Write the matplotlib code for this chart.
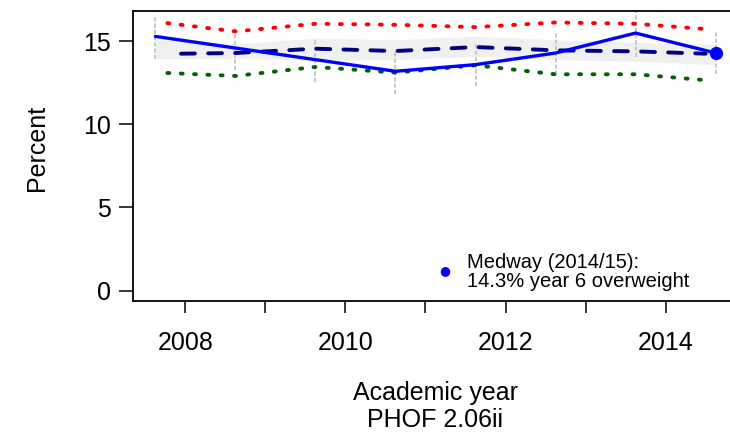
import matplotlib
matplotlib.use("Agg")
import matplotlib.pyplot as plt

plt.rcParams['font.family'] = ['Liberation Sans', 'DejaVu Sans']
plt.rcParams['lines.scale_dashes'] = False

# Data (academic years 2007/08 .. 2014/15, plotted at mid-year positions)
years = [2007.625, 2008.625, 2009.625, 2010.625, 2011.625, 2012.625, 2013.625, 2014.625]
medway = [15.3, 14.6, 13.9, 13.2, 13.6, 14.3, 15.5, 14.3]
medway_lo = [13.96, 13.3, 12.56, 11.86, 12.3, 12.96, 14.06, 13.06]
medway_hi = [16.56, 15.82, 15.16, 14.36, 14.9, 15.56, 16.76, 15.56]

band_lo = [13.95, 13.95, 13.9, 13.9, 14.1, 13.9, 13.8, 13.6]
band_hi = [15.1, 14.85, 15.2, 15.1, 15.3, 15.1, 14.95, 14.8]

red_x = [2007.775, 2008.625, 2009.625, 2010.625, 2011.625, 2012.625, 2013.625, 2014.51]
red_vals = [16.1, 15.6, 16.06, 16.0, 15.86, 16.14, 16.06, 15.74]
green_x = [2007.775, 2008.625, 2009.625, 2010.625, 2011.625, 2012.625, 2013.625, 2014.51]
green_vals = [13.1, 12.92, 13.46, 13.12, 13.56, 13.02, 13.02, 12.66]
navy_x = [2007.945, 2008.625, 2009.625, 2010.625, 2011.625, 2012.625, 2013.625, 2014.5]
navy_vals = [14.26, 14.3, 14.56, 14.42, 14.66, 14.46, 14.4, 14.26]

xticks = [2008, 2009, 2010, 2011, 2012, 2013, 2014]
xticklabels = ["2008", "", "2010", "", "2012", "", "2014"]
yticks = [0, 5, 10, 15]

latest_label = "Medway (2014/15):\n14.3% year 6 overweight"

fig = plt.figure(figsize=(7.3, 4.32), dpi=100)
ax = fig.add_axes([133/730, 1-301/432, (738-133)/730, (301-10.5)/432])

ax.fill_between(years, band_lo, band_hi, color='#f0f0f0', linewidth=0, zorder=1)

for x, lo, hi in zip(years, medway_lo, medway_hi):
    ax.plot([x, x], [lo, hi], color='#c4c4c4', lw=1.3, dashes=(3, 1.5), zorder=2)

ax.plot(red_x, red_vals, color='#ff0000', lw=2.8, dashes=(1.4, 8.2),
        dash_capstyle='round', zorder=3)
ax.plot(green_x, green_vals, color='#006400', lw=2.8, dashes=(1.4, 8.2),
        dash_capstyle='round', zorder=3)
ax.plot(navy_x, navy_vals, color='#000080', lw=2.8, dashes=(10, 9.5),
        dash_capstyle='round', zorder=3)
ax.plot(years, medway, color='#0000ff', lw=2.4, zorder=4, solid_capstyle='round')
ax.plot([years[-1]], [medway[-1]], 'o', color='#0000ff', ms=8.5, zorder=5)

ax.set_xlim(2007.345, 2014.905)
ax.set_ylim(-0.63, 16.86)

for side in ['top', 'right', 'left', 'bottom']:
    ax.spines[side].set_linewidth(1.3)

ax.set_xticks(xticks)
ax.set_xticklabels(xticklabels)
ax.set_yticks(yticks)
ax.tick_params(axis='x', direction='out', length=8.6, width=1.1, labelsize=18, pad=13)
ax.tick_params(axis='y', direction='out', length=10, width=1.1, labelsize=18, pad=6)

fig.text(37/730, 1-148/432, "Percent", rotation=90, ha='center', va='center', fontsize=18)
fig.text(435/730, 1-393/432, "Academic year", ha='center', va='center', fontsize=18)
fig.text(435/730, 1-420/432, "PHOF 2.06ii", ha='center', va='center', fontsize=18)

fig.text(445/730, 1-270.5/432, "\u25cf", color='#0000ff', fontsize=9, ha='center', va='center',
         family=['DejaVu Sans'])
fig.text(467/730, 1-272/432, latest_label, ha='left', va='center', fontsize=14.5, linespacing=1.05)

fig.savefig("out.png", dpi=100)
